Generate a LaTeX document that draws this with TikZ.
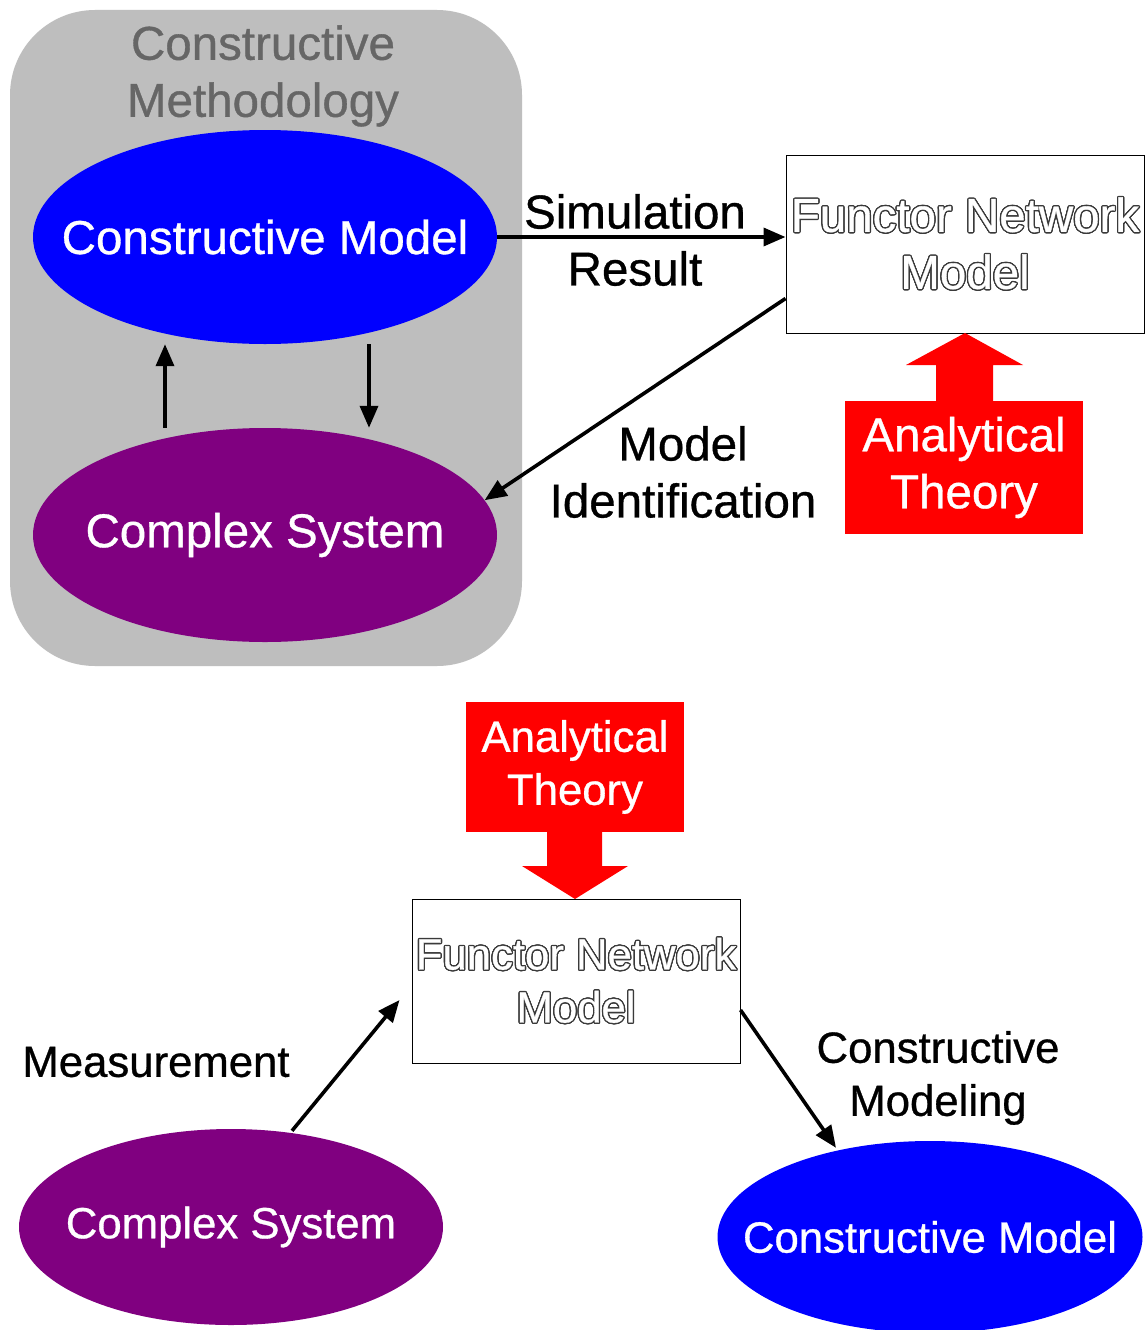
\documentclass[tikz,border=0pt]{standalone}
\usepackage{fontspec}
\setmainfont[FakeBold=0.7]{Liberation Sans}
\usepackage{contour}
\usetikzlibrary{shapes.geometric,arrows.meta,calc}
\definecolor{boxgray}{HTML}{BEBEBE}
\definecolor{titlegray}{HTML}{666666}
\definecolor{cmblue}{HTML}{0000FF}
\definecolor{cspurple}{HTML}{800080}
\definecolor{atred}{HTML}{FF0000}
\definecolor{outlinegray}{HTML}{3A3A3A}
\contourlength{1.3pt}
\newcommand{\outl}[1]{\contour{outlinegray}{\textcolor{white}{#1}}}
\begin{document}
\begin{tikzpicture}[x=1pt,y=-1pt,
  toptxt/.style={font=\fontsize{47.5}{57}\selectfont, align=center, inner sep=0pt},
  bottxt/.style={font=\fontsize{43.7}{53}\selectfont, align=center, inner sep=0pt},
  ell/.style={ellipse, inner sep=0pt},
  fnbox/.style={draw=black, line width=1pt, fill=white, inner sep=0pt},
  conn/.style={line width=3.6pt, -{Triangle[length=22pt,width=18pt]}},
  redarrow/.style={fill=atred, draw=none, inner sep=0pt, text=white}
]
\clip (0,0) rectangle (1147,1330);
\fill[white] (0,0) rectangle (1147,1330);

% ---------- top part ----------
\node[fill=boxgray, rounded corners=85pt, minimum width=512pt, minimum height=656pt, inner sep=0pt] (gbox) at (266,338) {};
\node[toptxt, text=titlegray] (title) at (263,76) {Constructive\\Methodology};

\node[ell, fill=cmblue, minimum width=464pt, minimum height=214pt] (cm) at (265,237) {};
\node[toptxt, text=white] (cmtxt) at (cm.center) {Constructive Model};
\node[ell, fill=cspurple, minimum width=464pt, minimum height=214pt] (cs) at (265,535) {};
\node[toptxt, text=white] (cstxt) at (cs.center) {Complex System};

\draw[conn] ([xshift=-100pt]cs.north) -- ([xshift=-100pt]cm.south);
\draw[conn] ([xshift=104pt]cm.south) -- ([xshift=104pt]cs.north);

\node[fnbox, minimum width=358pt, minimum height=178pt] (fn1) at (965,244) {};
\node[toptxt] (fn1txt) at (fn1.center) {\outl{Functor Network}\\\outl{Model}};

\draw[conn] (cm.east) -- (cm.east -| fn1.west);
\node[toptxt] (simlbl) at (635,240) {Simulation\\Result};

\draw[conn] ([yshift=35pt]fn1.south west) -- (cs.9);
\node[toptxt] (midlbl) at (683,472) {Model\\Identification};

\node[redarrow, minimum width=238pt, minimum height=133pt, toptxt] (at1) at (964,467.5) {Analytical\\Theory};
\fill[atred] (936,402) -- (936,365) -- (906,365) -- (965,333) -- (1023,365) -- (993,365) -- (993,402) -- cycle;

% ---------- bottom part ----------
\node[redarrow, minimum width=218pt, minimum height=130pt, bottxt] (at2) at (575,767) {Analytical\\Theory};
\fill[atred] (547,831) -- (547,866) -- (522,866) -- (575,899) -- (628,866) -- (602,866) -- (602,831) -- cycle;

\node[fnbox, minimum width=328pt, minimum height=164pt] (fn2) at (576,981) {};
\node[bottxt] (fn2txt) at (fn2.center) {\outl{Functor Network}\\\outl{Model}};

\node[ell, fill=cspurple, minimum width=424pt, minimum height=196pt] (cs2) at (231,1227) {};
\node[bottxt, text=white] (cs2txt) at (cs2.center) {Complex System};
\node[ell, fill=cmblue, minimum width=425pt, minimum height=192pt] (cm2) at (930,1237) {};
\node[bottxt, text=white] (cm2txt) at (cm2.center) {Constructive Model};

\draw[conn] ([xshift=61pt,yshift=-2pt]cs2.north) -- ([xshift=-12pt,yshift=-19pt]fn2.west);
\node[bottxt] (measlbl) at (156,1062) {Measurement};

\draw[conn] ([yshift=-29pt]fn2.east) -- ([xshift=-94pt,yshift=-7pt]cm2.north);
\node[bottxt] (cmodlbl) at (938,1078) {Constructive\\Modeling};
\end{tikzpicture}
\end{document}
